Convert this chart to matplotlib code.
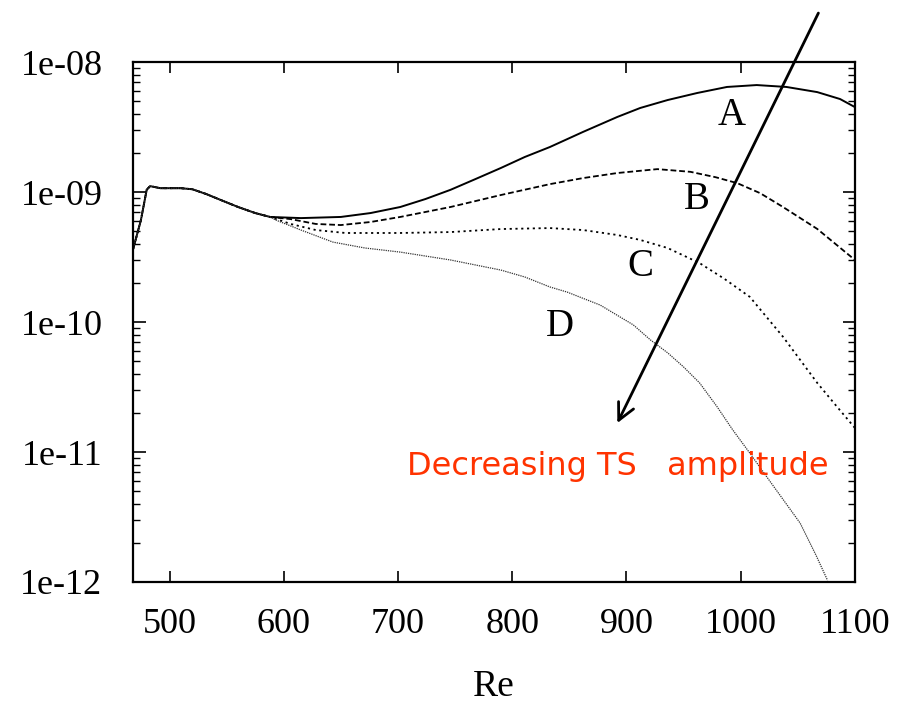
import matplotlib
matplotlib.use("Agg")
import matplotlib.pyplot as plt
from matplotlib.ticker import LogLocator, FixedLocator, FuncFormatter, NullFormatter
import numpy as np

# Shared start of all four runs (curves coincide up to Re ~ 590)
re_common = [468, 475, 480, 483, 492, 510, 520, 532, 545, 560, 575, 588]
amp_common = [3.6e-10, 6.1e-10, 1.04e-9, 1.11e-9, 1.07e-9, 1.07e-9, 1.05e-9,
              9.66e-10, 8.67e-10, 7.67e-10, 6.89e-10, 6.43e-10]

re_A = [615, 650, 676, 702, 724, 746, 768, 790, 811, 833, 862, 892, 912, 936,
        962, 988, 1014, 1040, 1067, 1087, 1100]
amp_A = [6.3e-10, 6.43e-10, 6.89e-10, 7.67e-10, 8.83e-10, 1.04e-9, 1.26e-9,
         1.53e-9, 1.86e-9, 2.22e-9, 2.9e-9, 3.78e-9, 4.43e-9, 5.1e-9, 5.78e-9,
         6.43e-9, 6.65e-9, 6.43e-9, 5.87e-9, 5.19e-9, 4.5e-9]

re_B = [606, 628, 650, 676, 702, 746, 790, 833, 862, 892, 927, 956, 978, 997,
        1017, 1037, 1067, 1100]
amp_B = [6.19e-10, 5.68e-10, 5.57e-10, 5.88e-10, 6.43e-10, 7.67e-10, 9.48e-10,
         1.15e-9, 1.28e-9, 1.40e-9, 1.50e-9, 1.43e-9, 1.30e-9, 1.17e-9, 9.8e-10,
         7.67e-10, 5.2e-10, 3.0e-10]

re_C = [606, 628, 654, 702, 746, 790, 833, 862, 892, 912, 936, 964, 986, 1008,
        1037, 1067, 1083, 1100]
amp_C = [5.68e-10, 5.1e-10, 4.84e-10, 4.84e-10, 4.92e-10, 5.19e-10, 5.28e-10,
         5.1e-10, 4.67e-10, 4.28e-10, 3.71e-10, 2.84e-10, 2.14e-10, 1.56e-10,
         7.7e-11, 3.4e-11, 2.3e-11, 1.53e-11]

re_D = [593, 615, 643, 671, 702, 746, 790, 811, 833, 848, 877, 906, 921, 936,
        950, 964, 979, 993, 1008, 1023, 1052, 1066, 1076]
amp_D = [6.09e-10, 5.1e-10, 4.12e-10, 3.71e-10, 3.45e-10, 3.0e-10, 2.51e-10,
         2.22e-10, 1.86e-10, 1.70e-10, 1.35e-10, 9.5e-11, 7.28e-11, 5.8e-11,
         4.51e-11, 3.4e-11, 2.25e-11, 1.48e-11, 9.8e-12, 6.4e-12, 2.84e-12,
         1.6e-12, 1.03e-12]

x_ticks = [500, 600, 700, 800, 900, 1000, 1100]
y_ticks = [1e-12, 1e-11, 1e-10, 1e-09, 1e-08]

serif = ["Liberation Serif", "DejaVu Serif"]

fig = plt.figure(figsize=(8.99, 7.04), dpi=100)
ax = fig.add_axes([0.1479, 0.1733, 0.8031, 0.7386])


def full(re_branch, amp_branch):
    return re_common + re_branch, amp_common + amp_branch


styles = {
    "A": dict(color="black", lw=1.4, ls="-"),
    "B": dict(color="black", lw=1.3, ls=(0, (3.2, 1.6))),
    "C": dict(color="black", lw=1.3, ls=(0, (1.2, 2.0))),
    "D": dict(color="#333333", lw=0.9, ls=(0, (1.0, 0.8))),
}
for key, (r, a) in {"A": full(re_A, amp_A), "B": full(re_B, amp_B),
                    "C": full(re_C, amp_C), "D": full(re_D, amp_D)}.items():
    ax.plot(r, a, **styles[key])

ax.set_yscale("log")
ax.set_xlim(468, 1100)
ax.set_ylim(1e-12, 1e-08)

ax.xaxis.set_major_locator(FixedLocator(x_ticks))
ax.yaxis.set_major_locator(FixedLocator(y_ticks))
ax.yaxis.set_minor_locator(LogLocator(base=10, subs=np.arange(2, 10)))
ax.yaxis.set_minor_formatter(NullFormatter())
ax.yaxis.set_major_formatter(FuncFormatter(lambda v, p: "%.0e" % v))

ax.tick_params(axis="both", which="both", direction="in", top=True, right=True)
ax.tick_params(axis="y", which="major", length=9, width=1.2, pad=22)
ax.tick_params(axis="y", which="minor", length=5, width=1.0)
ax.tick_params(axis="x", which="major", length=8, width=1.2, pad=19)
for lab in ax.get_xticklabels() + ax.get_yticklabels():
    lab.set_fontfamily(serif)
    lab.set_fontsize(26)
for sp in ax.spines.values():
    sp.set_linewidth(1.6)

ax.set_xlabel("Re", fontfamily=serif, fontsize=27, labelpad=20)

# Curve labels
for txt, xv, yv in [("A", 992, 3.85e-9), ("B", 962, 8.8e-10),
                    ("C", 912, 2.65e-10), ("D", 842, 9.3e-11)]:
    ax.text(xv, yv, txt, fontfamily=serif, fontsize=28, ha="center", va="center")

# Trend arrow
ax.annotate("", xy=(892, 1.67e-11), xytext=(1068, 2.38e-8),
            arrowprops=dict(arrowstyle="->", lw=2.0, color="black",
                            mutation_scale=30, shrinkA=0, shrinkB=0),
            annotation_clip=False)

ax.text(708, 7.8e-12, "Decreasing TS   amplitude", color="#ff3300",
        fontfamily="DejaVu Sans", fontsize=23, ha="left", va="center")

fig.savefig("out.png", dpi=100)
